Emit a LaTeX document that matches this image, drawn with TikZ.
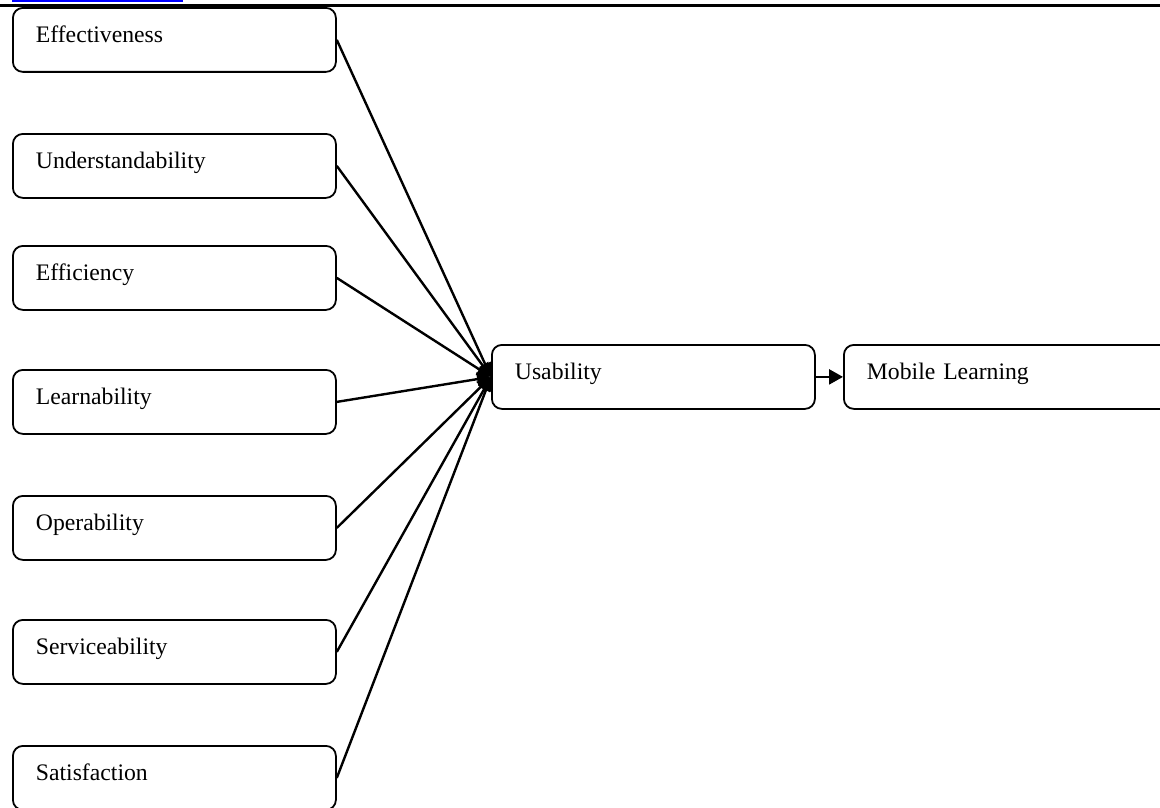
\documentclass[tikz,border=0pt]{standalone}
\usepackage{fontspec}
\setmainfont{Liberation Serif}
\usetikzlibrary{arrows.meta}
\begin{document}
\begin{tikzpicture}[x=1pt,y=-1pt,
  box/.style={draw, line width=1.8pt, rounded corners=10pt, anchor=north west,
    minimum width=323pt, minimum height=64pt, inner xsep=23pt, inner ysep=0pt,
    text width=277pt, align=left, text height=35pt, text depth=29pt,
    font=\fontsize{23.7}{28}\selectfont},
  conn/.style={line width=2.4pt, -{Triangle[length=14pt,width=13pt]}},
  rule/.style={line width=2.5pt},
  link/.style={blue, line width=2pt}]
\useasboundingbox (0,0) rectangle (1160,808);
% page header remnants
\draw[rule] (0,5.5) -- (1160,5.5);
\draw[link] (12,1) -- (183,1);
% factor boxes
\node[box] (eff) at (12,7) {Effectiveness};
\node[box] (und) at (12,133) {Understandability};
\node[box] (efc) at (12,245) {Efficiency};
\node[box] (lea) at (12,369) {Learnability};
\node[box] (ope) at (12,495) {Operability};
\node[box] (ser) at (12,619) {Serviceability};
\node[box] (sat) at (12,745) {Satisfaction};
% central boxes
\node[box] (usa) at (491,344) {Usability};
\node[box, minimum width=330pt, text width=284pt] (mob) at (843,344) {Mobile Learning};
% connectors
\foreach \n in {eff,und,efc,lea,ope,ser,sat}
  \draw[conn] (\n.east) -- (usa.west);
\draw[line width=2.4pt, -{Triangle[length=14pt,width=15pt]}] (usa.east) -- (mob.west);
\end{tikzpicture}
\end{document}
